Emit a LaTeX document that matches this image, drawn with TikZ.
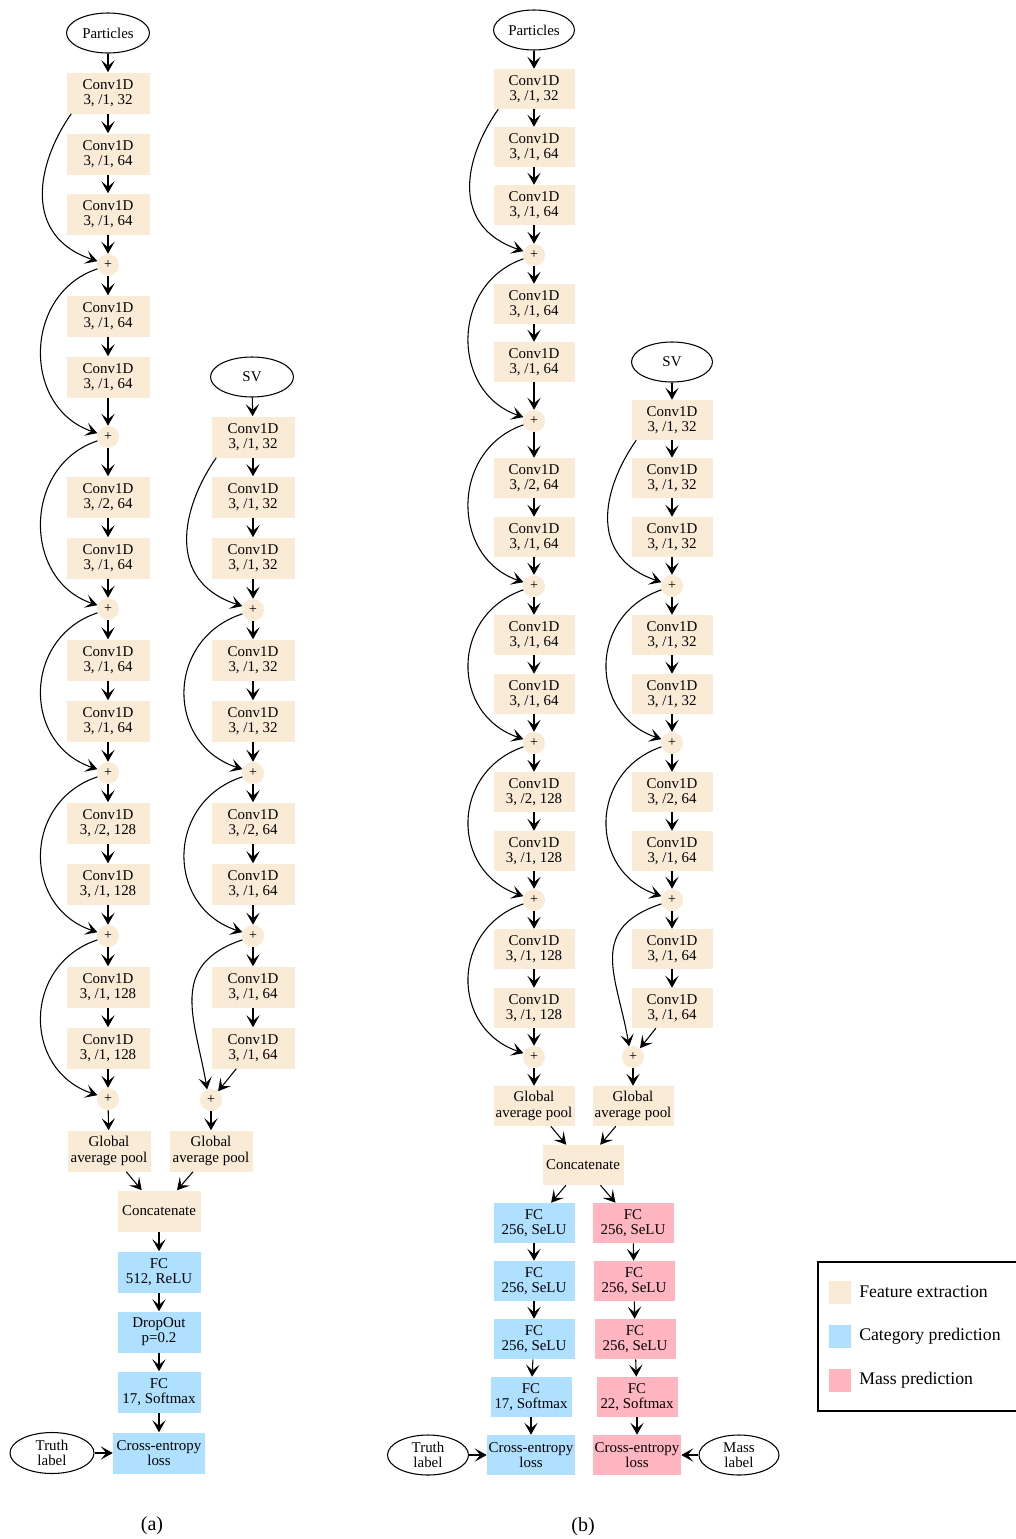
\documentclass[tikz,border=0pt]{standalone}
\usepackage{fontspec}
\setmainfont{Liberation Serif}
\usetikzlibrary{arrows.meta,calc,shapes.geometric}
\definecolor{feat}{RGB}{250,235,215}
\definecolor{cat}{RGB}{175,224,255}
\definecolor{mass}{RGB}{255,182,193}
\begin{document}
\begin{tikzpicture}[x=0.75pt,y=-0.75pt,
  every node/.style={font=\fontsize{11.2}{11.4}\selectfont, align=center, inner sep=0pt},
  boxa/.style={minimum width=62.25pt, minimum height=30.75pt},
  boxb/.style={minimum width=60.75pt, minimum height=30pt},
  fe/.style={fill=feat}, ca/.style={fill=cat}, ma/.style={fill=mass},
  oval/.style={draw, ellipse, line width=0.8pt},
  plusn/.style={circle, fill=feat, minimum size=16.5pt, font=\fontsize{10.5}{10.5}\selectfont},
  arr/.style={line width=0.8pt, -{Stealth[length=9pt,width=10pt,inset=4.2pt]}},
  legtext/.style={anchor=west, font=\fontsize{13.3}{13.3}\selectfont},
]
\useasboundingbox (0,0) rectangle (1016,1539);

% ===================== (a) =====================
% left column
\node[oval, minimum width=62.25pt, minimum height=30pt] (aP) at (108,33) {Particles};
\node[fe,boxa] (a1) at (108,93) {Conv1D\\3, /1, 32};
\node[fe,boxa] (a2) at (108,154) {Conv1D\\3, /1, 64};
\node[fe,boxa] (a3) at (108,214) {Conv1D\\3, /1, 64};
\node[plusn] (ap1) at (108,265) {+};
\node[fe,boxa] (a4) at (108,316) {Conv1D\\3, /1, 64};
\node[fe,boxa] (a5) at (108,377) {Conv1D\\3, /1, 64};
\node[plusn] (ap2) at (108,437) {+};
\node[fe,boxa] (a6) at (108,497) {Conv1D\\3, /2, 64};
\node[fe,boxa] (a7) at (108,558) {Conv1D\\3, /1, 64};
\node[plusn] (ap3) at (108,609) {+};
\node[fe,boxa] (a8) at (108,660) {Conv1D\\3, /1, 64};
\node[fe,boxa] (a9) at (108,721) {Conv1D\\3, /1, 64};
\node[plusn] (ap4) at (108,773) {+};
\node[fe,boxa] (a10) at (108,823) {Conv1D\\3, /2, 128};
\node[fe,boxa] (a11) at (108,884) {Conv1D\\3, /1, 128};
\node[plusn] (ap5) at (108,936) {+};
\node[fe,boxa] (a12) at (108,987) {Conv1D\\3, /1, 128};
\node[fe,boxa] (a13) at (108,1048) {Conv1D\\3, /1, 128};
\node[plusn] (ap6) at (108,1099) {+};
\node[fe,boxa] (apool) at (109,1151) {Global\\average pool};

% right column
\node[oval, minimum width=62.25pt, minimum height=30pt] (aS) at (252,377) {SV};
\node[fe,boxa] (b1) at (253,437) {Conv1D\\3, /1, 32};
\node[fe,boxa] (b2) at (253,497) {Conv1D\\3, /1, 32};
\node[fe,boxa] (b3) at (253,558) {Conv1D\\3, /1, 32};
\node[plusn] (bp1) at (253,610) {+};
\node[fe,boxa] (b4) at (253,660) {Conv1D\\3, /1, 32};
\node[fe,boxa] (b5) at (253,721) {Conv1D\\3, /1, 32};
\node[plusn] (bp2) at (253,773) {+};
\node[fe,boxa] (b6) at (253,823) {Conv1D\\3, /2, 64};
\node[fe,boxa] (b7) at (253,884) {Conv1D\\3, /1, 64};
\node[plusn] (bp3) at (253,936) {+};
\node[fe,boxa] (b8) at (253,987) {Conv1D\\3, /1, 64};
\node[fe,boxa] (b9) at (253,1048) {Conv1D\\3, /1, 64};
\node[plusn] (bp4) at (211,1100) {+};
\node[fe,boxa] (bpool) at (211,1151) {Global\\average pool};

% head
\node[fe,boxa] (aconc) at (159,1211) {Concatenate};
\node[ca,boxa] (afc1) at (159,1272) {FC\\512, ReLU};
\node[ca,boxa] (adrop) at (159,1332) {DropOut\\p=0.2};
\node[ca,boxa] (afc2) at (159,1392) {FC\\17, Softmax};
\node[ca,boxa,minimum width=69pt] (ace) at (159,1453) {Cross-entropy\\loss};
\node[oval, minimum width=63pt, minimum height=30.75pt] (atruth) at (52,1453) {Truth\\label};
\node[font=\fontsize{15}{15}\selectfont] (capa) at (152,1526) {(a)};

\foreach \s/\t in {aP/a1,a1/a2,a2/a3,a3/ap1,ap1/a4,a4/a5,a5/ap2,ap2/a6,a6/a7,a7/ap3,
  ap3/a8,a8/a9,a9/ap4,ap4/a10,a10/a11,a11/ap5,ap5/a12,a12/a13,a13/ap6,ap6/apool,
  aS/b1,b1/b2,b2/b3,b3/bp1,bp1/b4,b4/b5,b5/bp2,bp2/b6,b6/b7,b7/bp3,bp3/b8,b8/b9,b9/bp4,bp4/bpool,
  apool/aconc,bpool/aconc,aconc/afc1,afc1/adrop,adrop/afc2,afc2/ace,atruth/ace}
  \draw[arr] (\s) -- (\t);

% skip connections (a)
\draw[arr] ($(a1.south west)+(5,0)$) .. controls +(-35,50) and +(-75,-25) .. (ap1.160);
\foreach \s/\t in {ap1/ap2,ap2/ap3,ap3/ap4,ap4/ap5,ap5/ap6}
  \draw[arr] (\s.200) .. controls +(-75,25) and +(-75,-25) .. (\t.160);
\draw[arr] ($(b1.south west)+(5,0)$) .. controls +(-35,50) and +(-77,-25) .. (bp1.160);
\foreach \s/\t in {bp1/bp2,bp2/bp3}
  \draw[arr] (\s.200) .. controls +(-77,25) and +(-77,-25) .. (\t.160);
\draw[arr] (bp3.200) .. controls +(-75,25) and +(-12,-70) .. (bp4.110);

% ===================== (b) =====================
\node[oval, minimum width=60.75pt, minimum height=30pt] (cP) at (534,30) {Particles};
\node[fe,boxb] (c1) at (534,89) {Conv1D\\3, /1, 32};
\node[fe,boxb] (c2) at (534,147) {Conv1D\\3, /1, 64};
\node[fe,boxb] (c3) at (534,205) {Conv1D\\3, /1, 64};
\node[plusn] (cp1) at (534,255) {+};
\node[fe,boxb] (c4) at (534,304) {Conv1D\\3, /1, 64};
\node[fe,boxb] (c5) at (534,362) {Conv1D\\3, /1, 64};
\node[plusn] (cp2) at (534,421) {+};
\node[fe,boxb] (c6) at (534,478) {Conv1D\\3, /2, 64};
\node[fe,boxb] (c7) at (534,537) {Conv1D\\3, /1, 64};
\node[plusn] (cp3) at (534,586) {+};
\node[fe,boxb] (c8) at (534,635) {Conv1D\\3, /1, 64};
\node[fe,boxb] (c9) at (534,694) {Conv1D\\3, /1, 64};
\node[plusn] (cp4) at (534,743) {+};
\node[fe,boxb] (c10) at (534,792) {Conv1D\\3, /2, 128};
\node[fe,boxb] (c11) at (534,851) {Conv1D\\3, /1, 128};
\node[plusn] (cp5) at (534,900) {+};
\node[fe,boxb] (c12) at (534,949) {Conv1D\\3, /1, 128};
\node[fe,boxb] (c13) at (534,1008) {Conv1D\\3, /1, 128};
\node[plusn] (cp6) at (534,1057) {+};
\node[fe,boxb] (cpool) at (534,1106) {Global\\average pool};

\node[oval, minimum width=60.75pt, minimum height=30pt] (dS) at (672,362) {SV};
\node[fe,boxb] (d1) at (672,420) {Conv1D\\3, /1, 32};
\node[fe,boxb] (d2) at (672,478) {Conv1D\\3, /1, 32};
\node[fe,boxb] (d3) at (672,537) {Conv1D\\3, /1, 32};
\node[plusn] (dp1) at (672,586) {+};
\node[fe,boxb] (d4) at (672,635) {Conv1D\\3, /1, 32};
\node[fe,boxb] (d5) at (672,694) {Conv1D\\3, /1, 32};
\node[plusn] (dp2) at (672,743) {+};
\node[fe,boxb] (d6) at (672,792) {Conv1D\\3, /2, 64};
\node[fe,boxb] (d7) at (672,851) {Conv1D\\3, /1, 64};
\node[plusn] (dp3) at (672,900) {+};
\node[fe,boxb] (d8) at (672,949) {Conv1D\\3, /1, 64};
\node[fe,boxb] (d9) at (672,1008) {Conv1D\\3, /1, 64};
\node[plusn] (dp4) at (633,1057) {+};
\node[fe,boxb] (dpool) at (633,1106) {Global\\average pool};

\node[fe,boxb] (bconc) at (583,1165) {Concatenate};
\node[ca,boxb] (bf1) at (534,1223) {FC\\256, SeLU};
\node[ca,boxb] (bf2) at (534,1281) {FC\\256, SeLU};
\node[ca,boxb] (bf3) at (534,1339) {FC\\256, SeLU};
\node[ca,boxb] (bf4) at (531,1397) {FC\\17, Softmax};
\node[ca,boxb,minimum width=66pt] (bce) at (531,1455) {Cross-entropy\\loss};
\node[oval, minimum width=60.75pt, minimum height=30pt] (btruth) at (428,1455) {Truth\\label};
\node[ma,boxb] (mf1) at (633,1223) {FC\\256, SeLU};
\node[ma,boxb] (mf2) at (634,1281) {FC\\256, SeLU};
\node[ma,boxb] (mf3) at (635,1339) {FC\\256, SeLU};
\node[ma,boxb] (mf4) at (637,1397) {FC\\22, Softmax};
\node[ma,boxb,minimum width=66pt] (mce) at (637,1455) {Cross-entropy\\loss};
\node[oval, minimum width=60pt, minimum height=30pt] (mlabel) at (739,1455) {Mass\\label};
\node[font=\fontsize{15}{15}\selectfont] (capb) at (583,1527) {(b)};

\foreach \s/\t in {cP/c1,c1/c2,c2/c3,c3/cp1,cp1/c4,c4/c5,c5/cp2,cp2/c6,c6/c7,c7/cp3,
  cp3/c8,c8/c9,c9/cp4,cp4/c10,c10/c11,c11/cp5,cp5/c12,c12/c13,c13/cp6,cp6/cpool,
  dS/d1,d1/d2,d2/d3,d3/dp1,dp1/d4,d4/d5,d5/dp2,dp2/d6,d6/d7,d7/dp3,dp3/d8,d8/d9,d9/dp4,dp4/dpool,
  cpool/bconc,dpool/bconc,bconc/bf1,bconc/mf1,bf1/bf2,bf2/bf3,bf3/bf4,bf4/bce,btruth/bce,
  mf1/mf2,mf2/mf3,mf3/mf4,mf4/mce,mlabel/mce}
  \draw[arr] (\s) -- (\t);

\draw[arr] ($(c1.south west)+(5,0)$) .. controls +(-35,50) and +(-73,-25) .. (cp1.160);
\foreach \s/\t in {cp1/cp2,cp2/cp3,cp3/cp4,cp4/cp5,cp5/cp6}
  \draw[arr] (\s.200) .. controls +(-73,25) and +(-73,-25) .. (\t.160);
\draw[arr] ($(d1.south west)+(5,0)$) .. controls +(-35,50) and +(-73,-25) .. (dp1.160);
\foreach \s/\t in {dp1/dp2,dp2/dp3}
  \draw[arr] (\s.200) .. controls +(-73,25) and +(-73,-25) .. (\t.160);
\draw[arr] (dp3.200) .. controls +(-75,25) and +(-12,-70) .. (dp4.110);

% ===================== legend =====================
\draw[line width=0.8pt] (818,1262) rectangle (1030,1411);
\node[fill=feat, minimum width=16.5pt, minimum height=17.25pt] (l1) at (840,1292) {};
\node[fill=cat, minimum width=16.5pt, minimum height=17.25pt] (l2) at (840,1336) {};
\node[fill=mass, minimum width=16.5pt, minimum height=17.25pt] (l3) at (840,1380) {};
\node[legtext] (lt1) at (859,1292) {Feature extraction};
\node[legtext] (lt2) at (859,1336) {Category prediction};
\node[legtext] (lt3) at (859,1380) {Mass prediction};
\end{tikzpicture}
\end{document}
